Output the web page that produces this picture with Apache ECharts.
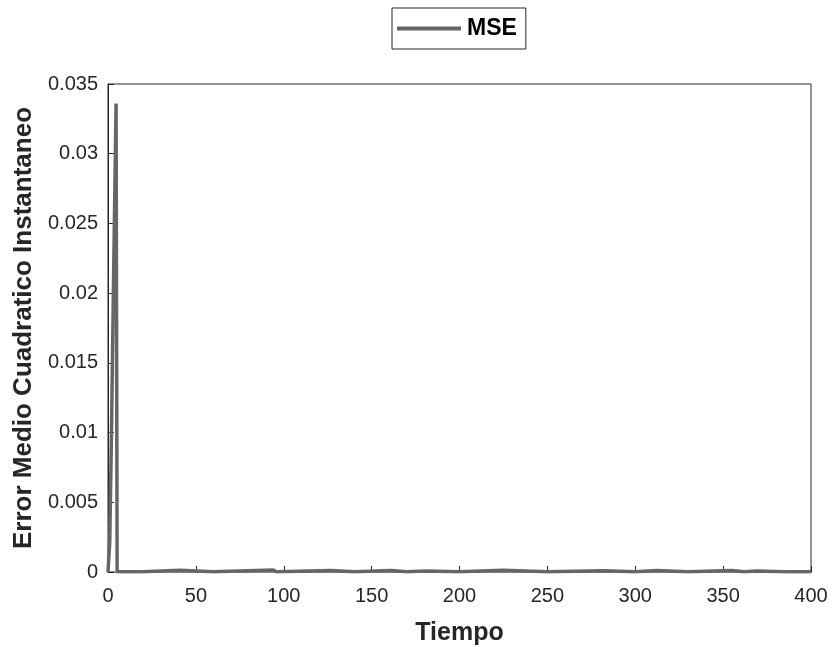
<!DOCTYPE html>
<html>
<head>
<meta charset="utf-8">
<script src="https://cdn.jsdelivr.net/npm/echarts@6/dist/echarts.min.js"></script>
<style>html,body{margin:0;padding:0;background:#fff;}#c{width:832px;height:647px;}</style>
</head>
<body>
<div id="c"></div>
<script>
// Data
const seriesName = 'MSE';
const xName = 'Tiempo';
const yName = 'Error Medio Cuadratico Instantaneo';
const tiempo = [0, 1, 2, 3, 4.6, 5.2, 20, 41, 60, 94, 96, 127, 140, 161, 170, 181, 200, 225, 250, 282, 300, 312, 330, 355, 362, 369, 385, 400];
const mse = [0, 0.0022, 0.0102, 0.0196, 0.0336, 0.00002, 0.00001, 0.00012, 0.00001, 0.00014, 0.00001, 0.0001, 0.00001, 0.0001, 0.00001, 0.00008, 0.00001, 0.00012, 0.00001, 0.00009, 0.00001, 0.0001, 0.00001, 0.0001, 0.00001, 0.00008, 0.00001, 0.00001];
const yTicks = [0, 0.005, 0.01, 0.015, 0.02, 0.025, 0.03, 0.035];
const xTicks = [0, 50, 100, 150, 200, 250, 300, 350, 400];

const chart = echarts.init(document.getElementById('c'), null, {renderer: 'canvas'});
const font = 'Liberation Sans, Arial, Helvetica, sans-serif';
const data = tiempo.map((t, i) => [t, mse[i]]);
chart.setOption({
  animation: false,
  backgroundColor: '#ffffff',
  grid: {left: 108, right: 21, top: 84, bottom: 75, show: true, borderColor: '#262626', borderWidth: 1,
    containLabel: false, outerBoundsMode: 'none'},
  legend: {
    left: 392, top: 8,
    data: [seriesName],
    icon: 'rect', itemWidth: 64, itemHeight: 4, itemGap: 0,
    padding: [9, 9, 9, 5],
    borderColor: '#262626', borderWidth: 1, backgroundColor: '#fff',
    textStyle: {fontFamily: font, fontSize: 23, fontWeight: 'bold', color: '#000', padding: [0, 0, 0, 1]}
  },
  xAxis: [{
    type: 'value', min: xTicks[0], max: xTicks[xTicks.length - 1], interval: 50,
    name: xName, nameLocation: 'middle', nameGap: 49,
    nameTextStyle: {fontFamily: font, fontSize: 25, fontWeight: 'bold', color: '#262626'},
    axisLine: {show: true, onZero: false, lineStyle: {color: '#262626', width: 1}},
    axisTick: {show: true, inside: true, length: 6, lineStyle: {color: '#262626'}},
    axisLabel: {fontFamily: font, fontSize: 20, color: '#262626', margin: 14},
    splitLine: {show: false}
  }, {
    type: 'value', position: 'top', min: 0, max: 400,
    axisLine: {show: true, lineStyle: {color: '#8a8a8a', width: 1}},
    axisTick: {show: false}, axisLabel: {show: false}, splitLine: {show: false}
  }],
  yAxis: {
    type: 'value', min: yTicks[0], max: yTicks[yTicks.length - 1], interval: 0.005,
    name: yName, nameLocation: 'middle', nameGap: 62,
    nameTextStyle: {fontFamily: font, fontSize: 26, fontWeight: 'bold', color: '#262626'},
    axisLine: {show: true, lineStyle: {color: '#262626', width: 1}},
    axisTick: {show: true, inside: true, length: 6, lineStyle: {color: '#262626'}},
    axisLabel: {fontFamily: font, fontSize: 20, color: '#262626', margin: 10,
      formatter: v => String(parseFloat(v.toFixed(4)))},
    splitLine: {show: false}
  },
  series: [{
    name: seriesName, type: 'line', data: data, xAxisIndex: 0,
    showSymbol: false, symbol: 'none',
    lineStyle: {color: '#666666', width: 3.5},
    itemStyle: {color: '#666666'}
  }]
});
</script>
</body>
</html>
